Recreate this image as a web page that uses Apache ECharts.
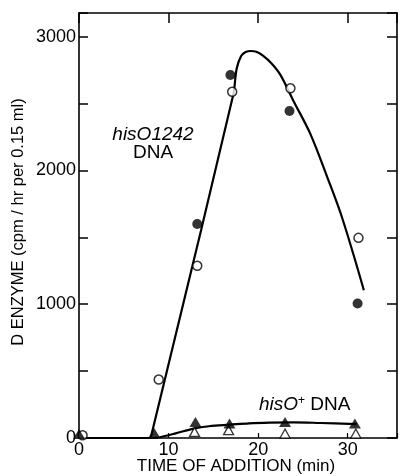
<!DOCTYPE html>
<html>
<head>
<meta charset="utf-8">
<script src="https://cdn.jsdelivr.net/npm/echarts@6/dist/echarts.min.js"></script>
<style>
  html, body { margin: 0; padding: 0; background: #fff; }
  #chart { width: 400px; height: 476px; }
</style>
</head>
<body>
<div id="chart"></div>
<script>
// ===================================================
//  DATOS
// ===================================================
const xLabels = [0, 10, 20, 30];
const yLabels = [0, 1000, 2000, 3000];

// hisO1242 DNA
const filledCircles = [[13.2, 1600], [16.9, 2713], [23.5, 2444], [31.1, 1005]];
const openCircles = [[0.4, 20], [8.9, 437], [13.2, 1287], [17.1, 2588], [23.6, 2614], [31.2, 1496]];
const curveHisO1242 = [
    [8.0, 0], [17.2, 2560], [17.6, 2760], [18.1, 2855], [18.6, 2885], [19.2, 2893],
    [19.8, 2887], [20.5, 2860], [21.5, 2800], [22.5, 2713], [23.9, 2525],
    [25.8, 2277], [27.7, 1952], [29.4, 1641], [31.8, 1105]
];

// hisO+ DNA
const filledTriangles = [[0, 30], [8.4, 37], [13.0, 120], [16.8, 108], [23.0, 120], [30.8, 108]];
const openTriangles = [[12.9, 45], [16.7, 58], [23.0, 33], [30.9, 33]];
const curveHisOPlus = [
    [0, 0], [8.4, 0], [9.6, 15], [10.8, 35], [12.8, 70], [14.5, 88], [16.9, 100],
    [19.0, 110], [21.3, 115], [24.0, 117], [27.0, 112], [31.0, 104]
];

// ===================================================
//  GRÁFICO
// ===================================================
(function () {
    const chart = echarts.init(document.getElementById('chart'));
    const font = 'Liberation Sans, Arial, sans-serif';
    const black = '#000';

    const boxAxis = {
        min: 0,
        axisLine: { show: true, onZero: false, lineStyle: { color: black, width: 1.6 } },
        splitLine: { show: false },
        axisLabel: { show: false },
        axisTick: { show: true, inside: true, length: 10, lineStyle: { color: black, width: 1.5 } }
    };

    const option = {
        animation: false,
        backgroundColor: '#fff',
        grid: { left: 79, right: 3, top: 13, bottom: 38 },
        xAxis: [
            Object.assign({}, boxAxis, {
                type: 'value', position: 'bottom', max: 35.5, interval: 10,
                axisTick: { show: true, inside: true, length: 5, lineStyle: { color: black, width: 1.2 } },
                axisLabel: {
                    show: true, margin: 3, color: black, fontFamily: font, fontSize: 18,
                    formatter: v => xLabels.includes(v) ? String(v) : ''
                }
            }),
            Object.assign({}, boxAxis, { type: 'value', position: 'top', max: 35.5, interval: 10 })
        ],
        yAxis: [
            Object.assign({}, boxAxis, {
                type: 'value', position: 'left', max: 3177, interval: 500,
                axisTick: { show: true, inside: true, length: 9, lineStyle: { color: black, width: 1.5 } },
                axisLabel: {
                    show: true, margin: 3, color: black, fontFamily: font, fontSize: 18,
                    formatter: v => yLabels.includes(v) ? String(v) : ''
                }
            }),
            Object.assign({}, boxAxis, { type: 'value', position: 'right', max: 3177, interval: 500 })
        ],
        series: [
            {
                type: 'line', data: curveHisO1242, showSymbol: false, symbol: 'none',
                smooth: 0.35, lineStyle: { color: black, width: 2.2 }, z: 2
            },
            {
                type: 'line', data: curveHisOPlus, showSymbol: false, symbol: 'none',
                smooth: 0.35, lineStyle: { color: black, width: 2.2 }, z: 2
            },
            {
                type: 'scatter', data: filledCircles, symbol: 'circle', symbolSize: 10,
                itemStyle: { color: black }, z: 5
            },
            {
                type: 'scatter', data: openCircles, symbol: 'circle', symbolSize: 9,
                itemStyle: { color: '#fff', borderColor: black, borderWidth: 1.5 }, z: 5
            },
            {
                type: 'scatter', data: filledTriangles, symbol: 'triangle', symbolSize: [12, 10],
                itemStyle: { color: black }, z: 5
            },
            {
                type: 'scatter', data: openTriangles, symbol: 'triangle', symbolSize: [10, 9],
                itemStyle: { color: '#fff', borderColor: black, borderWidth: 1.3 }, z: 4
            }
        ],
        graphic: [
            {
                type: 'text', x: 153, y: 135,
                style: {
                    text: 'hisO1242', fill: black, align: 'center', verticalAlign: 'middle',
                    font: 'italic 19px ' + font
                }
            },
            {
                type: 'text', x: 153, y: 153,
                style: {
                    text: 'DNA', fill: black, align: 'center', verticalAlign: 'middle',
                    font: '19px ' + font
                }
            },
            {
                type: 'text', x: 259, y: 405,
                style: {
                    text: '{i|hisO}{s|+}{n| DNA}', align: 'left', verticalAlign: 'middle',
                    rich: {
                        i: { fontFamily: font, fontStyle: 'italic', fontSize: 19, fill: black },
                        s: { fontFamily: font, fontSize: 12, fill: black, verticalAlign: 'top', padding: [0, 0, 8, 0] },
                        n: { fontFamily: font, fontSize: 19, fill: black }
                    }
                }
            },
            {
                type: 'text', x: 236, y: 466,
                style: {
                    text: 'TIME OF ADDITION (min)', fill: black, align: 'center', verticalAlign: 'middle',
                    font: '17px ' + font
                }
            },
            {
                type: 'text', x: 18, y: 222, rotation: Math.PI / 2,
                style: {
                    text: 'D ENZYME (cpm / hr per 0.15 ml)', fill: black, align: 'center', verticalAlign: 'middle',
                    font: '16.5px ' + font
                }
            }
        ]
    };

    chart.setOption(option);
})();
</script>
</body>
</html>
